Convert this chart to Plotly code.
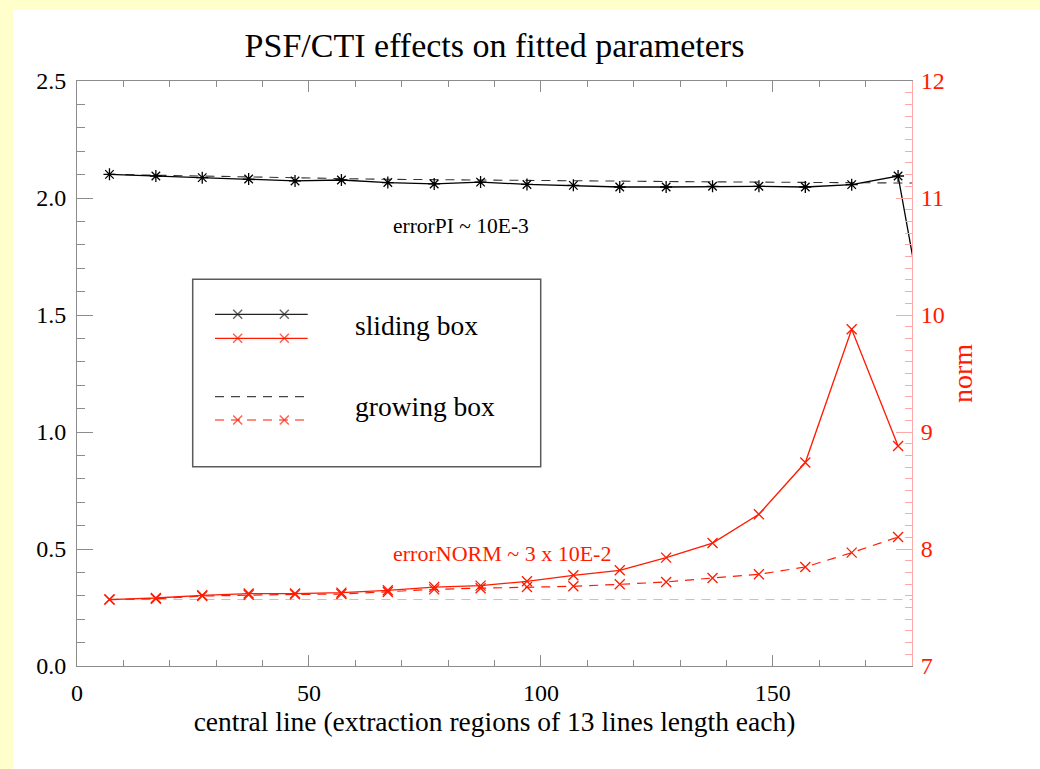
import plotly.graph_objects as go

# ---------------- data ----------------
central_line = [7, 17, 27, 37, 47, 57, 67, 77, 87, 97, 107, 117, 127, 137, 147, 157, 167, 177]
central_line_ext = central_line + [187]

pi_sliding = [2.101, 2.094, 2.087, 2.081, 2.073, 2.077, 2.066, 2.060, 2.068, 2.058,
              2.054, 2.047, 2.047, 2.050, 2.050, 2.047, 2.057, 2.094, 1.00]
pi_growing = [2.101, 2.097, 2.092, 2.088, 2.085, 2.083, 2.080, 2.078, 2.076, 2.074,
              2.072, 2.071, 2.070, 2.069, 2.068, 2.067, 2.066, 2.065, 2.063]

norm_sliding = [7.568, 7.581, 7.604, 7.619, 7.619, 7.627, 7.647, 7.675, 7.687, 7.724,
                7.775, 7.818, 7.926, 8.051, 8.297, 8.739, 9.878, 8.880]
norm_growing = [7.568, 7.575, 7.598, 7.608, 7.612, 7.615, 7.632, 7.655, 7.665, 7.675,
                7.681, 7.698, 7.718, 7.752, 7.784, 7.846, 7.969, 8.103]

x_range = [0, 180]
pi_range = [0, 2.5]
norm_range = [7, 12]

title_text = "PSF/CTI effects on fitted parameters"
x_title = "central line (extraction regions of 13 lines length each)"
y2_title = "norm"
note_pi = "errorPI ~ 10E-3"
note_norm = "errorNORM ~ 3 x 10E-2"
legend_labels = ["sliding box", "growing box"]

# ---------------- styles ----------------
RED = "#ff1a00"
PINK = "#ffa8a8"
AX = "#8c8c8c"
FONT = "Liberation Serif"
DASH = "9px,7px"

W, H = 1040, 769
ML, MR, MT, MB = 77, 128, 81, 103
PW, PH = W - ML - MR, H - MT - MB


def px(x):
    return (x - ML) / PW


def py(y):
    return (H - MB - y) / PH


fig = go.Figure()

# reference line at initial norm value
fig.add_trace(go.Scatter(x=[central_line[0], x_range[1]], y=[norm_sliding[0]] * 2,
                         yaxis="y2", mode="lines",
                         line=dict(color=PINK, width=1, dash=DASH), showlegend=False))
fig.add_trace(go.Scatter(x=central_line, y=norm_growing, yaxis="y2", mode="lines+markers",
                         line=dict(color=RED, width=1.2, dash=DASH),
                         marker=dict(symbol="x-thin-open", size=10, line=dict(color=RED, width=1.3)),
                         showlegend=False))
fig.add_trace(go.Scatter(x=central_line, y=norm_sliding, yaxis="y2", mode="lines+markers",
                         line=dict(color=RED, width=1.3),
                         marker=dict(symbol="x-thin-open", size=10, line=dict(color=RED, width=1.3)),
                         showlegend=False))
fig.add_trace(go.Scatter(x=central_line_ext, y=pi_growing, mode="lines",
                         line=dict(color="#333333", width=1.1, dash=DASH), showlegend=False))
fig.add_trace(go.Scatter(x=central_line_ext, y=pi_sliding, mode="lines+markers",
                         line=dict(color="black", width=1.3),
                         marker=dict(symbol="asterisk-open", size=10, line=dict(color="black", width=1.3)),
                         showlegend=False))

# ---------------- manual legend (overlay axis in paper units) ----------------
lx = [px(215), px(237.7), px(284.3), px(307.7)]
msz = [0, 9, 9, 0]
leg_items = [
    (py(314.3), "#222222", None, True),
    (py(338.3), RED, None, True),
    (py(396.7), "#444444", DASH, False),
    (py(420), RED, DASH, True),
]
for yy, col, dsh, mk in leg_items:
    fig.add_trace(go.Scatter(x=lx, y=[yy] * 4, xaxis="x3", yaxis="y3",
                             mode="lines+markers" if mk else "lines",
                             line=dict(color=col, width=1.2, dash=dsh),
                             marker=dict(symbol="x-thin-open", size=msz, line=dict(color=col, width=1.4)),
                             showlegend=False, hoverinfo="skip"))

shapes = [
    # yellow page bands
    dict(type="rect", xref="paper", yref="paper", x0=px(-50), x1=px(13), y0=py(900), y1=py(-50),
         fillcolor="#ffffcc", line_width=0, layer="below"),
    dict(type="rect", xref="paper", yref="paper", x0=px(-50), x1=px(1100), y0=py(10), y1=py(-50),
         fillcolor="#ffffcc", line_width=0, layer="below"),
    # legend frame
    dict(type="rect", xref="paper", yref="paper", x0=px(192.7), x1=px(540.7), y0=py(466.7), y1=py(279.3),
         line=dict(color="#5a5a5a", width=1.5)),
]

annotations = [
    dict(text=legend_labels[0], xref="paper", yref="paper", x=px(353), y=py(325),
         xanchor="left", yanchor="middle", showarrow=False, font=dict(family=FONT, size=27.5, color="black")),
    dict(text=legend_labels[1], xref="paper", yref="paper", x=px(353), y=py(406.7),
         xanchor="left", yanchor="middle", showarrow=False, font=dict(family=FONT, size=27.5, color="black")),
    dict(text=note_pi, xref="paper", yref="paper", x=px(391), y=py(226),
         xanchor="left", yanchor="middle", showarrow=False, font=dict(family=FONT, size=21.5, color="black")),
    dict(text=note_norm, xref="paper", yref="paper", x=px(391), y=py(553),
         xanchor="left", yanchor="middle", showarrow=False, font=dict(family=FONT, size=22, color=RED)),
]

fig.update_layout(
    width=W, height=H,
    margin=dict(l=ML, r=MR, t=MT, b=MB, pad=0),
    paper_bgcolor="white", plot_bgcolor="white",
    font=dict(family=FONT, color="black", size=24),
    title=dict(text=title_text, x=(ML + PW / 2) / W, xanchor="center",
               y=1 - 45 / H, yanchor="middle", yref="container",
               font=dict(family=FONT, size=34, color="black")),
    xaxis=dict(range=x_range, dtick=50, tick0=0, showgrid=False, zeroline=False,
               showline=True, linecolor=AX, linewidth=1, mirror="ticks",
               ticks="inside", ticklen=11, tickcolor=AX, tickwidth=1,
               minor=dict(dtick=10, ticks="inside", ticklen=6, tickcolor=AX),
               ticklabelstandoff=5,
               tickfont=dict(family=FONT, size=24, color="black"),
               title=dict(text=x_title, standoff=2, font=dict(family=FONT, size=27.5, color="black"))),
    yaxis=dict(range=pi_range, dtick=0.5, tick0=0, tickformat=".1f", showgrid=False, zeroline=False,
               showline=True, linecolor=AX, linewidth=1, mirror=False,
               ticks="inside", ticklen=16, tickcolor=AX, tickwidth=1,
               minor=dict(dtick=0.1, ticks="inside", ticklen=8, tickcolor=AX),
               ticklabelstandoff=5,
               tickfont=dict(family=FONT, size=24, color="black")),
    yaxis2=dict(range=norm_range, dtick=1, tick0=7, overlaying="y", side="right",
                showgrid=False, zeroline=False, showline=True, linecolor=PINK, linewidth=1,
                ticks="inside", ticklen=16, tickcolor=PINK, tickwidth=1,
                minor=dict(dtick=0.1, ticks="inside", ticklen=7, tickcolor=PINK),
                ticklabelstandoff=3,
                tickfont=dict(family=FONT, size=24, color=RED),
                title=dict(text=y2_title, standoff=8, font=dict(family=FONT, size=28, color=RED))),
    xaxis3=dict(range=[0, 1], domain=[0, 1], overlaying="x", visible=False, fixedrange=True),
    yaxis3=dict(range=[0, 1], domain=[0, 1], overlaying="y", visible=False, fixedrange=True),
    shapes=shapes,
    annotations=annotations,
    showlegend=False,
)

fig.write_html("out.html", config={"displayModeBar": False},
               post_script="document.body.style.margin='0';")
